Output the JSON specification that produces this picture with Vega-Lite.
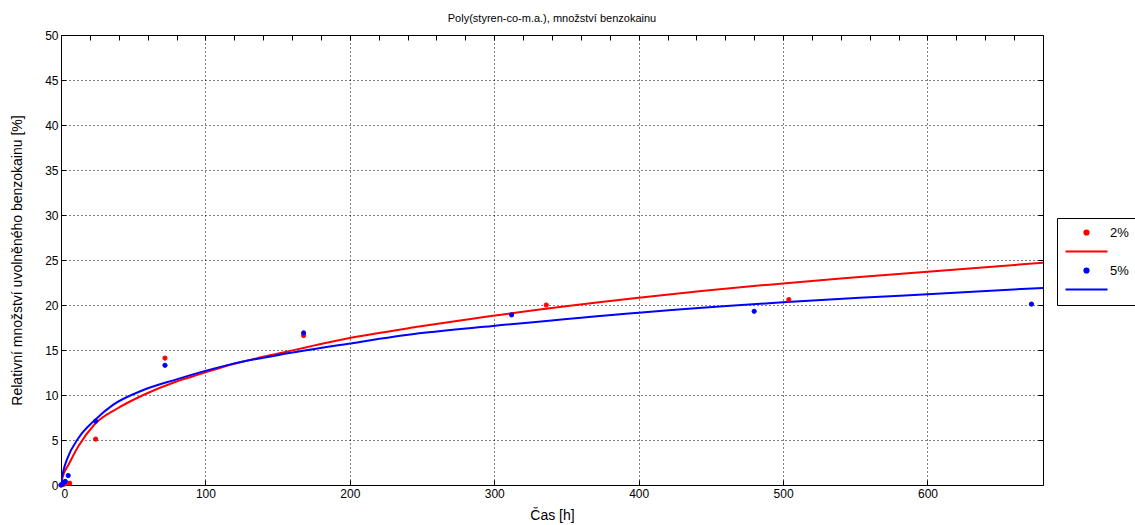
{
  "$schema": "https://vega.github.io/schema/vega-lite/v6.json",
  "width": 982,
  "height": 450,
  "autosize": "none",
  "padding": {"left": 61, "top": 35, "right": 92, "bottom": 40},
  "background": "white",
  "title": {"text": "Poly(styren-co-m.a.), množství benzokainu", "fontSize": 11, "fontWeight": "normal", "font": "Liberation Sans", "offset": 5, "color": "black"},
  "config": {
    "view": {"stroke": "black", "strokeWidth": 1},
    "axis": {"gridColor": "black", "gridDash": [1, 3], "gridOpacity": 1, "gridWidth": 1, "domain": false, "tickColor": "black", "tickSize": -5, "labelPadding": 8, "labelFont": "Liberation Sans", "labelFontSize": 12, "labelColor": "black", "titleFont": "Liberation Sans", "titleFontSize": 14, "titleFontWeight": "normal", "titleColor": "black"},
    "legend": {"title": null, "orient": "none", "legendX": 996, "legendY": 183, "strokeColor": "black", "fillColor": "white", "padding": 8, "labelFontSize": 13, "labelFont": "Liberation Sans", "labelColor": "black", "symbolStrokeWidth": 2, "symbolOffset": 15, "labelOffset": 17, "rowPadding": 5}
  },
  "datasets": {
    "pts": [
      {"series": "2%", "t": 0, "y": 0},
      {"series": "2%", "t": 1, "y": 0.05},
      {"series": "2%", "t": 2, "y": 0.1},
      {"series": "2%", "t": 3, "y": 0.15},
      {"series": "2%", "t": 6, "y": 0.2},
      {"series": "2%", "t": 24, "y": 5.1},
      {"series": "2%", "t": 72, "y": 14.1},
      {"series": "2%", "t": 168, "y": 16.6},
      {"series": "2%", "t": 336, "y": 20.0},
      {"series": "2%", "t": 504, "y": 20.6},
      {"series": "5%", "t": 0, "y": 0},
      {"series": "5%", "t": 1, "y": 0.1},
      {"series": "5%", "t": 2, "y": 0.3},
      {"series": "5%", "t": 3, "y": 0.4},
      {"series": "5%", "t": 5, "y": 1.05},
      {"series": "5%", "t": 24, "y": 7.1},
      {"series": "5%", "t": 72, "y": 13.3},
      {"series": "5%", "t": 168, "y": 16.9},
      {"series": "5%", "t": 312, "y": 18.9},
      {"series": "5%", "t": 480, "y": 19.3},
      {"series": "5%", "t": 672, "y": 20.1}
    ],
    "fits": [
      {"series": "2% fit", "t": 0, "y": 0},
      {"series": "2% fit", "t": 0.5, "y": 0.5},
      {"series": "2% fit", "t": 1, "y": 0.8},
      {"series": "2% fit", "t": 2, "y": 1.3},
      {"series": "2% fit", "t": 5, "y": 2.2},
      {"series": "2% fit", "t": 12, "y": 4.3},
      {"series": "2% fit", "t": 23, "y": 6.7},
      {"series": "2% fit", "t": 39, "y": 8.5},
      {"series": "2% fit", "t": 57, "y": 10.0},
      {"series": "2% fit", "t": 80, "y": 11.5},
      {"series": "2% fit", "t": 98, "y": 12.4},
      {"series": "2% fit", "t": 116, "y": 13.3},
      {"series": "2% fit", "t": 156, "y": 14.8},
      {"series": "2% fit", "t": 199, "y": 16.3},
      {"series": "2% fit", "t": 248, "y": 17.6},
      {"series": "2% fit", "t": 299, "y": 18.8},
      {"series": "2% fit", "t": 400, "y": 20.8},
      {"series": "2% fit", "t": 500, "y": 22.4},
      {"series": "2% fit", "t": 553, "y": 23.1},
      {"series": "2% fit", "t": 600, "y": 23.7},
      {"series": "2% fit", "t": 680, "y": 24.7},
      {"series": "5% fit", "t": 0, "y": 0},
      {"series": "5% fit", "t": 0.5, "y": 0.7},
      {"series": "5% fit", "t": 1, "y": 1.1},
      {"series": "5% fit", "t": 2, "y": 1.8},
      {"series": "5% fit", "t": 4, "y": 2.8},
      {"series": "5% fit", "t": 12, "y": 5.2},
      {"series": "5% fit", "t": 23, "y": 7.15},
      {"series": "5% fit", "t": 36, "y": 8.9},
      {"series": "5% fit", "t": 57, "y": 10.55},
      {"series": "5% fit", "t": 80, "y": 11.74},
      {"series": "5% fit", "t": 98, "y": 12.6},
      {"series": "5% fit", "t": 116, "y": 13.35},
      {"series": "5% fit", "t": 156, "y": 14.6},
      {"series": "5% fit", "t": 199, "y": 15.7},
      {"series": "5% fit", "t": 248, "y": 16.85},
      {"series": "5% fit", "t": 299, "y": 17.67},
      {"series": "5% fit", "t": 400, "y": 19.15},
      {"series": "5% fit", "t": 500, "y": 20.3},
      {"series": "5% fit", "t": 553, "y": 20.8},
      {"series": "5% fit", "t": 600, "y": 21.2},
      {"series": "5% fit", "t": 680, "y": 21.9}
    ]
  },
  "layer": [
    {
      "data": {"name": "fits"},
      "mark": {"type": "line", "strokeWidth": 2, "interpolate": "monotone", "clip": true},
      "encoding": {
        "x": {"field": "t", "type": "quantitative", "scale": {"domain": [0, 680], "nice": false}, "axis": {"values": [0, 100, 200, 300, 400, 500, 600], "title": "Čas [h]", "titlePadding": 9}},
        "y": {"field": "y", "type": "quantitative", "scale": {"domain": [0, 50], "nice": false}, "axis": {"values": [0, 5, 10, 15, 20, 25, 30, 35, 40, 45, 50], "title": "Relativní množství uvolněného benzokainu [%]", "titlePadding": 20}},
        "stroke": {"field": "series", "type": "nominal", "scale": {"domain": ["2%", "2% fit", "5%", "5% fit"], "range": ["#ff0000", "#ff0000", "#0000ff", "#0000ff"]}, "legend": {"labelExpr": "datum.label == '2%' || datum.label == '5%' ? datum.label : ''"}},
        "order": {"field": "t", "type": "quantitative"}
      }
    },
    {
      "data": {"name": "pts"},
      "mark": {"type": "point", "filled": true, "opacity": 1, "strokeWidth": 1, "clip": false},
      "encoding": {
        "x": {"field": "t", "type": "quantitative", "axis": {"orient": "top", "labels": false, "grid": false, "title": null}},
        "y": {"field": "y", "type": "quantitative", "axis": {"orient": "right", "labels": false, "grid": false, "title": null}},
        "fill": {"field": "series", "type": "nominal", "scale": {"domain": ["2%", "2% fit", "5%", "5% fit"], "range": ["#ff0000", "#ff0000", "#0000ff", "#0000ff"]}, "legend": {"labelExpr": "datum.label == '2%' || datum.label == '5%' ? datum.label : ''"}},
        "stroke": {"field": "series", "type": "nominal"},
        "shape": {"field": "series", "type": "nominal", "scale": {"domain": ["2%", "2% fit", "5%", "5% fit"], "range": ["circle", "M-4.2,0H4.2", "circle", "M-4.2,0H4.2"]}, "legend": {"labelExpr": "datum.label == '2%' || datum.label == '5%' ? datum.label : ''"}},
        "size": {"field": "series", "type": "nominal", "scale": {"type": "ordinal", "domain": ["2%", "2% fit", "5%", "5% fit"], "range": [18, 100, 18, 100]}, "legend": {"labelExpr": "datum.label == '2%' || datum.label == '5%' ? datum.label : ''"}}
      }
    }
  ],
  "resolve": {"axis": {"x": "independent", "y": "independent"}}
}
